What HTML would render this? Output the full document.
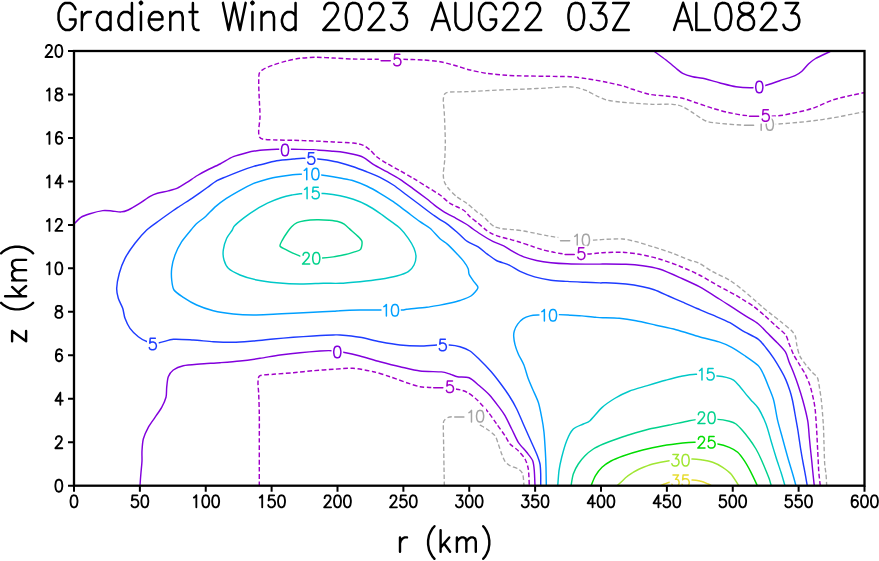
<!DOCTYPE html>
<html><head><meta charset="utf-8"><title>Gradient Wind</title>
<style>html,body{margin:0;padding:0;background:#fff;font-family:"Liberation Sans",sans-serif}body{width:879px;height:561px;overflow:hidden}</style></head>
<body>
<svg width="879" height="561" viewBox="0 0 879 561" style="display:block">
<rect x="0" y="0" width="879" height="561" fill="#fff"/>
<defs><clipPath id="pa"><rect x="74.0" y="51.0" width="790.5" height="434.7"/></clipPath></defs>
<g clip-path="url(#pa)" fill="none" stroke-width="1.45" stroke-linejoin="round">
<path d="M866.0 111.3 C864.2 111.7 856.3 113.3 852.7 114.0 C849.1 114.7 843.8 115.9 839.3 116.7 C834.8 117.5 824.6 119.3 819.3 120.0 C814.0 120.7 804.8 121.8 799.3 122.3 C793.8 122.8 785.2 123.6 777.7 124.0 C770.2 124.4 750.5 125.1 742.7 125.0 C734.9 124.9 724.2 123.8 719.3 123.3 C714.4 122.8 709.5 122.4 706.0 121.0 C702.5 119.6 695.8 114.6 692.7 112.7 C689.6 110.8 685.4 107.8 682.7 106.7 C680.0 105.6 676.7 104.6 672.7 104.3 C668.7 104.0 657.6 104.4 652.7 104.3 C647.8 104.2 640.4 103.6 636.0 103.3 C631.6 103.0 623.9 102.4 620.0 102.0 C616.1 101.6 609.8 100.8 606.7 100.0 C603.6 99.2 599.4 97.2 596.7 96.0 C594.0 94.8 589.4 91.8 586.7 90.7 C584.0 89.6 579.4 88.2 576.7 87.7 C574.0 87.2 570.7 86.7 566.7 86.7 C562.7 86.7 552.0 87.7 546.7 88.0 C541.4 88.3 532.0 88.8 526.7 89.0 C521.4 89.2 512.0 89.5 506.7 89.7 C501.4 89.9 492.0 90.4 486.7 90.7 C481.4 91.0 471.6 91.5 466.7 91.7 C461.8 91.9 452.9 91.7 450.0 92.0 C447.1 92.3 445.6 92.9 444.7 94.0 C443.8 95.1 443.4 97.4 443.3 100.0 C443.2 102.6 444.0 108.0 444.3 113.3 C444.6 118.6 445.2 133.8 445.3 140.0 C445.4 146.2 445.0 155.6 444.7 160.0 C444.4 164.4 443.4 170.4 443.3 173.3 C443.2 176.2 443.6 179.7 444.3 181.7 C445.0 183.7 446.6 186.3 448.3 188.3 C450.0 190.3 454.2 194.7 456.7 196.7 C459.2 198.7 464.0 201.3 466.7 203.3 C469.4 205.3 474.7 210.1 476.7 211.7 C478.7 213.3 480.2 213.6 481.9 215.0 C483.6 216.4 487.4 220.7 489.1 222.3 C490.8 223.9 492.9 225.9 494.6 226.8 C496.3 227.7 499.5 228.3 501.9 228.7 C504.3 229.1 509.9 229.3 512.8 229.6 C515.7 229.9 520.8 230.5 523.7 231.0 C526.6 231.5 531.7 232.6 534.6 233.2 C537.5 233.8 542.7 234.9 545.6 235.4 C548.5 235.9 550.4 236.6 556.5 237.2 C562.6 237.8 584.4 239.7 591.0 240.0 C597.6 240.3 601.8 239.4 606.0 239.3 C610.2 239.2 618.7 238.7 622.7 239.0 C626.7 239.3 632.0 240.7 636.0 241.7 C640.0 242.7 647.8 245.2 652.7 246.7 C657.6 248.2 667.8 251.5 672.7 253.3 C677.6 255.1 685.8 258.7 689.3 260.0 C692.8 261.3 696.2 261.7 699.3 263.3 C702.4 264.9 708.7 269.5 712.7 271.7 C716.7 273.9 725.3 277.6 729.3 280.0 C733.3 282.4 739.3 287.3 742.7 290.0 C746.1 292.7 751.8 297.7 754.5 300.0 C757.2 302.3 760.4 305.4 762.7 307.3 C765.0 309.2 769.4 312.7 771.8 314.6 C774.2 316.5 778.4 319.7 780.9 321.8 C783.4 323.9 789.0 328.1 790.9 330.0 C792.8 331.9 794.6 334.3 795.4 336.4 C796.2 338.5 796.3 342.8 796.9 345.5 C797.5 348.2 798.7 353.7 800.0 356.4 C801.3 359.1 804.7 363.3 806.4 365.5 C808.1 367.7 811.2 371.2 812.7 372.8 C814.2 374.4 816.4 375.7 817.3 377.4 C818.2 379.1 818.6 382.5 819.1 385.5 C819.6 388.5 820.7 394.9 821.3 400.0 C821.9 405.1 822.9 418.1 823.3 424.0 C823.7 429.9 823.8 438.7 824.0 444.0 C824.2 449.3 824.4 460.0 824.7 464.0 C825.0 468.0 825.7 471.1 826.0 474.0 C826.3 476.9 826.6 484.4 826.7 486.0" stroke="#a4a4a4" stroke-dasharray="4.5 2.5" stroke-width="1.35"/>
<path d="M444.3 486.0 C444.3 483.5 444.1 472.5 444.0 467.3 C443.9 462.1 443.8 452.6 443.7 447.3 C443.6 442.0 443.3 430.8 443.3 427.3 C443.3 423.8 443.3 422.0 444.0 420.7 C444.7 419.4 446.8 417.8 448.3 417.3 C449.8 416.8 452.1 416.6 455.0 416.7 C457.9 416.8 466.9 417.0 470.0 418.0 C473.1 419.0 476.1 422.5 478.3 424.0 C480.5 425.5 484.5 427.4 486.7 429.0 C488.9 430.6 493.5 433.7 495.0 435.7 C496.5 437.7 497.4 441.6 498.3 444.0 C499.2 446.4 500.8 451.7 501.7 454.0 C502.6 456.3 503.9 459.7 505.0 461.3 C506.1 462.9 508.2 464.7 510.0 465.7 C511.8 466.7 516.6 467.9 518.3 469.0 C520.0 470.1 521.9 471.7 522.7 474.0 C523.5 476.3 523.8 484.4 524.0 486.0" stroke="#a4a4a4" stroke-dasharray="4.5 2.5" stroke-width="1.35"/>
<path d="M866.0 92.3 C864.2 92.7 857.1 94.0 852.7 95.0 C848.3 96.0 838.0 98.2 832.7 100.0 C827.4 101.8 818.0 106.5 812.7 108.3 C807.4 110.1 797.6 112.3 792.7 113.3 C787.8 114.3 781.8 115.6 776.0 116.0 C770.2 116.4 755.5 116.4 749.3 116.0 C743.1 115.6 734.2 113.7 729.3 112.7 C724.4 111.7 717.1 109.6 712.7 108.3 C708.3 107.0 700.0 104.0 696.0 102.7 C692.0 101.4 686.7 99.2 682.7 98.3 C678.7 97.4 670.5 96.5 666.0 96.0 C661.5 95.5 653.7 95.2 649.3 94.3 C644.9 93.4 636.2 90.4 632.7 89.3 C629.2 88.2 626.8 86.9 623.3 86.0 C619.8 85.1 611.6 83.3 606.7 82.3 C601.8 81.3 591.6 79.4 586.7 78.7 C581.8 78.0 575.3 77.0 570.0 76.7 C564.7 76.4 552.5 76.4 546.7 76.3 C540.9 76.2 532.0 76.1 526.7 76.0 C521.4 75.9 512.0 75.7 506.7 75.3 C501.4 74.9 491.6 74.0 486.7 73.3 C481.8 72.6 474.5 71.1 470.0 70.0 C465.5 68.9 457.3 66.1 453.3 65.0 C449.3 63.9 444.0 62.4 440.0 61.7 C436.0 61.0 428.2 60.3 423.3 60.0 C418.4 59.7 409.1 59.4 403.3 59.3 C397.5 59.2 386.7 59.3 380.0 59.3 C373.3 59.3 359.2 59.2 353.0 59.0 C346.8 58.8 338.1 58.2 333.3 58.0 C328.5 57.8 321.1 57.3 316.7 57.3 C312.3 57.3 304.0 57.8 300.0 58.3 C296.0 58.8 290.3 60.1 286.7 61.0 C283.1 61.9 276.4 63.9 273.3 65.0 C270.2 66.1 265.2 68.2 263.3 69.3 C261.4 70.4 259.9 71.4 259.3 73.3 C258.7 75.2 258.7 79.7 258.7 83.3 C258.7 86.9 259.1 95.5 259.3 100.0 C259.5 104.5 260.1 112.7 260.0 116.7 C259.9 120.7 258.8 127.3 258.7 130.0 C258.6 132.7 258.7 135.5 259.3 136.7 C259.9 137.9 261.0 138.9 263.3 139.3 C265.6 139.7 272.7 139.9 276.7 140.0 C280.7 140.1 288.4 140.2 293.3 140.3 C298.2 140.4 308.0 140.8 313.3 141.0 C318.6 141.2 328.0 141.7 333.3 142.0 C338.6 142.3 349.3 142.6 353.3 143.0 C357.3 143.4 361.1 144.4 363.3 145.3 C365.5 146.2 368.2 148.5 370.0 150.0 C371.8 151.5 374.5 154.9 376.7 156.7 C378.9 158.5 383.6 161.4 386.7 163.3 C389.8 165.2 396.5 168.7 400.0 170.7 C403.5 172.7 409.7 176.2 413.3 178.3 C416.9 180.4 423.1 184.5 426.7 186.7 C430.3 188.9 436.9 192.8 440.0 195.0 C443.1 197.2 446.9 201.3 450.0 203.3 C453.1 205.3 460.6 208.2 463.3 210.0 C466.0 211.8 468.0 215.0 470.0 216.8 C472.0 218.6 476.1 221.5 478.2 223.2 C480.3 224.9 483.6 228.1 485.5 229.6 C487.4 231.1 490.9 233.1 492.8 234.1 C494.7 235.1 497.7 236.1 500.1 236.8 C502.5 237.5 508.3 238.9 511.0 239.6 C513.7 240.3 517.4 241.5 520.1 242.3 C522.8 243.1 528.1 244.9 531.0 245.9 C533.9 246.9 539.0 248.8 541.9 249.6 C544.8 250.4 550.0 251.4 552.9 252.0 C555.8 252.6 559.1 253.5 563.8 253.8 C568.5 254.1 583.1 254.1 588.3 254.0 C593.5 253.9 598.1 252.9 602.7 252.7 C607.3 252.5 617.8 252.1 622.7 252.3 C627.6 252.5 634.4 253.4 639.3 254.3 C644.2 255.2 654.0 257.4 659.3 259.0 C664.6 260.6 674.0 263.9 679.3 266.0 C684.6 268.1 694.0 272.3 699.3 275.0 C704.6 277.7 714.4 283.7 719.3 286.4 C724.2 289.1 732.8 293.5 736.0 295.3 C739.2 297.1 741.3 298.5 743.6 300.0 C745.9 301.5 750.8 304.3 753.6 306.4 C756.4 308.5 761.6 313.0 764.5 315.5 C767.4 318.0 772.6 323.0 775.4 325.5 C778.2 328.0 783.6 332.2 785.4 334.6 C787.2 337.0 788.0 341.0 789.1 343.7 C790.2 346.4 792.1 351.7 793.6 354.6 C795.1 357.5 798.4 362.8 800.0 365.5 C801.6 368.2 804.2 371.9 805.5 374.6 C806.8 377.3 808.9 382.1 810.0 385.5 C811.1 388.9 812.9 396.6 813.6 400.0 C814.3 403.4 814.9 406.6 815.3 410.7 C815.7 414.8 816.4 425.4 816.7 430.7 C817.0 436.0 817.4 445.4 817.7 450.7 C818.0 456.0 818.4 466.0 818.7 470.7 C819.0 475.4 820.1 484.0 820.3 486.0" stroke="#a000c8" stroke-dasharray="4.7 2.5" stroke-width="1.45"/>
<path d="M259.3 486.0 C259.3 483.5 259.3 473.3 259.3 467.3 C259.3 461.3 259.3 447.8 259.3 440.7 C259.3 433.6 259.4 420.2 259.3 414.0 C259.2 407.8 258.9 398.3 258.7 394.0 C258.5 389.7 257.8 384.1 258.0 381.7 C258.2 379.3 258.0 376.7 260.0 375.7 C262.0 374.7 268.9 374.7 273.3 374.3 C277.7 373.9 288.0 373.2 293.3 372.7 C298.6 372.2 308.0 371.2 313.3 370.7 C318.6 370.2 328.0 369.6 333.3 369.3 C338.6 369.0 347.7 368.0 353.0 368.3 C358.3 368.6 368.4 370.6 373.3 371.7 C378.2 372.8 385.5 375.2 390.0 376.7 C394.5 378.2 402.7 381.4 406.7 382.7 C410.7 384.0 416.2 386.0 420.0 386.7 C423.8 387.4 430.1 387.4 435.0 387.7 C439.9 388.0 452.4 388.6 456.7 389.2 C461.0 389.8 464.7 391.0 467.5 392.5 C470.3 394.0 474.7 397.7 477.5 400.3 C480.3 402.9 485.7 409.1 488.3 412.3 C490.9 415.5 494.5 420.9 496.7 424.0 C498.9 427.1 503.2 433.0 505.0 435.7 C506.8 438.4 508.2 442.0 510.0 444.0 C511.8 446.0 516.3 448.7 518.3 450.7 C520.3 452.7 523.7 456.6 525.0 459.0 C526.3 461.4 527.7 465.4 528.3 469.0 C528.9 472.6 529.2 483.7 529.3 486.0" stroke="#a000c8" stroke-dasharray="4.7 2.5" stroke-width="1.45"/>
<path d="M73.0 225.0 C74.1 224.0 78.6 218.8 80.9 217.3 C83.2 215.8 87.1 214.6 90.0 213.7 C92.9 212.8 99.9 211.0 102.8 210.6 C105.7 210.2 109.5 210.8 111.9 211.0 C114.3 211.2 118.8 212.0 121.0 211.9 C123.2 211.8 125.8 211.1 128.2 210.0 C130.6 208.9 136.3 205.5 139.2 203.7 C142.1 201.9 147.7 197.8 150.1 196.4 C152.5 195.0 155.0 194.0 157.4 193.3 C159.8 192.6 165.6 191.6 168.3 190.9 C171.0 190.2 175.0 189.3 177.4 188.2 C179.8 187.1 183.8 184.4 186.5 182.7 C189.2 181.0 194.6 177.2 197.4 175.5 C200.2 173.8 204.4 171.5 207.4 170.0 C210.4 168.5 216.5 165.8 220.0 164.0 C223.5 162.2 229.7 158.2 233.3 156.7 C236.9 155.2 243.1 153.6 246.7 152.7 C250.3 151.8 256.0 150.8 260.0 150.3 C264.0 149.8 272.3 149.4 276.7 149.3 C281.1 149.2 288.4 149.2 293.3 149.3 C298.2 149.4 308.0 149.4 313.3 149.7 C318.6 150.0 329.7 151.0 333.3 151.3 C336.9 151.6 337.3 151.3 340.0 151.7 C342.7 152.1 350.2 153.6 353.3 154.3 C356.4 155.0 360.6 156.0 363.3 157.3 C366.0 158.6 370.2 162.4 373.3 164.3 C376.4 166.2 383.1 169.7 386.7 171.7 C390.3 173.7 396.5 177.0 400.0 179.3 C403.5 181.6 409.7 186.2 413.3 188.8 C416.9 191.4 423.6 196.4 426.7 198.8 C429.8 201.2 434.0 204.9 436.7 206.8 C439.4 208.7 444.1 211.9 446.7 213.4 C449.3 214.9 453.4 216.9 456.0 218.3 C458.6 219.7 463.7 222.6 466.0 224.0 C468.3 225.4 470.9 227.5 473.0 229.0 C475.1 230.5 479.3 233.3 481.9 235.0 C484.5 236.7 489.9 239.9 492.8 241.4 C495.7 242.9 501.0 244.6 503.7 245.9 C506.4 247.2 510.1 249.9 512.8 251.4 C515.5 252.9 520.5 255.7 523.7 256.9 C526.9 258.1 532.9 259.7 536.5 260.5 C540.1 261.3 546.9 262.3 551.0 262.7 C555.1 263.1 562.8 263.6 567.4 263.8 C572.0 264.0 581.3 264.1 585.6 264.1 C589.9 264.1 597.3 264.1 600.0 264.1 C602.7 264.1 602.5 264.0 606.0 264.0 C609.5 264.0 621.1 264.1 626.0 264.3 C630.9 264.5 638.3 265.1 642.7 265.7 C647.1 266.3 654.4 267.5 659.3 269.0 C664.2 270.5 674.0 274.9 679.3 277.3 C684.6 279.7 694.0 283.8 699.3 286.7 C704.6 289.6 714.7 296.1 719.3 299.0 C723.9 301.9 730.0 305.9 733.6 308.2 C737.2 310.5 743.0 314.3 746.3 316.4 C749.6 318.5 755.3 321.5 758.1 323.7 C760.9 325.9 764.7 330.3 767.2 332.8 C769.7 335.3 774.8 340.3 777.2 342.8 C779.6 345.3 783.8 349.4 785.4 351.9 C787.0 354.4 788.0 359.1 789.1 361.9 C790.2 364.7 792.4 369.7 793.6 372.8 C794.8 375.9 797.0 381.9 798.2 385.5 C799.4 389.1 801.4 395.3 802.7 400.0 C804.0 404.7 806.8 415.7 807.7 420.7 C808.6 425.7 808.9 432.9 809.3 437.3 C809.7 441.7 810.5 449.5 811.0 454.0 C811.5 458.5 812.3 466.4 812.7 470.7 C813.1 475.0 814.1 484.0 814.3 486.0" stroke="#8200dc"/>
<path d="M140.0 486.0 C140.1 484.2 140.7 475.7 141.0 472.3 C141.3 468.9 141.9 463.6 142.0 460.7 C142.1 457.8 141.8 453.6 142.0 450.7 C142.2 447.8 142.5 442.1 143.3 439.0 C144.1 435.9 146.7 430.2 148.3 427.3 C149.9 424.4 153.2 420.0 155.0 417.3 C156.8 414.6 160.2 410.0 161.7 407.3 C163.2 404.6 165.3 400.0 166.0 397.3 C166.7 394.6 166.4 390.0 166.7 387.3 C167.0 384.6 167.4 379.0 168.3 376.7 C169.2 374.4 171.3 371.5 173.3 370.0 C175.3 368.5 179.7 366.5 183.3 365.7 C186.9 364.9 195.1 364.4 200.0 364.0 C204.9 363.6 214.7 363.1 220.0 362.7 C225.3 362.3 234.7 361.6 240.0 361.0 C245.3 360.4 254.7 359.1 260.0 358.3 C265.3 357.5 274.7 355.7 280.0 355.0 C285.3 354.3 294.7 353.2 300.0 352.7 C305.3 352.2 315.8 351.3 320.0 351.0 C324.2 350.7 328.6 350.5 331.7 350.7 C334.8 350.9 339.5 351.6 343.3 352.3 C347.1 353.0 355.1 354.7 360.0 356.0 C364.9 357.3 374.7 360.3 380.0 361.7 C385.3 363.1 394.7 365.5 400.0 366.7 C405.3 367.9 414.5 370.3 420.0 371.0 C425.5 371.7 437.4 371.5 441.4 371.9 C445.4 372.3 448.2 373.6 450.3 374.2 C452.4 374.8 454.9 376.2 457.4 376.7 C459.9 377.2 466.1 376.7 469.0 377.8 C471.9 378.9 476.1 383.0 478.8 385.3 C481.5 387.6 486.7 392.0 489.5 395.1 C492.3 398.2 497.9 405.7 500.0 408.4 C502.1 411.1 503.4 413.0 505.0 415.7 C506.6 418.4 509.9 425.5 511.7 429.0 C513.5 432.5 516.3 439.2 518.3 442.3 C520.3 445.4 524.8 449.8 526.7 452.3 C528.6 454.8 531.7 458.2 532.7 460.7 C533.7 463.2 534.0 467.3 534.3 470.7 C534.6 474.1 534.9 484.0 535.0 486.0" stroke="#8200dc"/>
<path d="M651.0 49.0 C653.0 50.5 662.7 57.4 666.0 60.0 C669.3 62.6 673.8 66.5 676.0 68.3 C678.2 70.1 680.5 72.2 682.7 73.3 C684.9 74.4 690.0 76.0 692.7 76.7 C695.4 77.4 699.2 77.5 702.7 78.3 C706.2 79.1 714.9 81.6 719.3 82.7 C723.7 83.8 731.5 86.0 736.0 86.7 C740.5 87.4 748.9 87.8 752.7 87.7 C756.5 87.6 760.8 86.7 764.4 85.8 C768.0 84.9 775.6 82.1 779.7 80.7 C783.8 79.3 792.1 76.9 795.1 75.6 C798.1 74.3 800.1 72.9 801.9 71.3 C803.7 69.7 806.9 65.4 808.7 63.7 C810.5 62.0 812.9 60.1 815.6 58.5 C818.3 56.9 826.7 53.2 829.2 52.0 C831.7 50.8 833.4 50.1 834.0 49.8" stroke="#8200dc"/>
<path d="M540.7 486.0 C540.7 484.4 540.8 476.9 540.7 474.0 C540.6 471.1 540.5 466.7 540.0 464.0 C539.5 461.3 538.0 457.3 536.7 454.0 C535.4 450.7 531.8 443.0 530.0 439.0 C528.2 435.0 525.1 428.0 523.3 424.0 C521.5 420.0 518.6 412.8 516.7 409.0 C514.8 405.2 511.2 398.9 509.0 395.5 C506.8 392.1 502.9 386.7 500.5 383.5 C498.1 380.3 493.7 374.6 491.0 371.5 C488.3 368.4 482.8 362.7 480.0 360.0 C477.2 357.3 472.7 352.8 470.0 351.0 C467.3 349.2 462.8 347.5 460.0 346.7 C457.2 345.9 452.4 345.2 449.3 345.0 C446.2 344.8 440.6 344.9 436.7 345.0 C432.8 345.1 424.9 346.0 420.0 346.0 C415.1 346.0 405.3 345.6 400.0 345.0 C394.7 344.4 385.3 342.7 380.0 341.7 C374.7 340.7 365.3 338.2 360.0 337.3 C354.7 336.4 343.6 335.3 340.0 335.0 C336.4 334.7 336.9 334.9 333.3 335.0 C329.7 335.1 318.6 335.7 313.3 336.0 C308.0 336.3 298.6 336.9 293.3 337.3 C288.0 337.7 278.6 338.5 273.3 339.0 C268.0 339.5 258.6 340.6 253.3 341.0 C248.0 341.4 238.6 342.2 233.3 342.3 C228.0 342.4 218.6 342.0 213.3 341.7 C208.0 341.4 198.6 340.3 193.3 340.0 C188.0 339.7 177.8 338.9 173.3 339.3 C168.8 339.7 162.8 342.4 159.3 342.7 C155.8 343.0 150.1 342.5 147.3 341.7 C144.5 340.9 140.6 338.5 138.3 336.7 C136.0 334.9 131.8 330.8 130.0 328.3 C128.2 325.8 126.0 321.0 125.0 318.3 C124.0 315.6 123.6 311.0 122.7 308.3 C121.8 305.6 119.1 301.0 118.3 298.3 C117.5 295.6 116.6 291.6 116.7 288.3 C116.8 285.0 118.2 277.3 119.3 273.3 C120.4 269.3 122.9 262.3 125.0 258.3 C127.1 254.3 132.1 247.1 135.0 243.3 C137.9 239.5 143.4 233.1 146.7 230.0 C150.0 226.9 156.5 222.6 160.0 220.0 C163.5 217.4 170.6 212.4 173.3 210.5 C176.0 208.6 177.3 207.8 180.0 206.0 C182.7 204.2 190.1 199.6 193.7 197.1 C197.3 194.6 204.2 189.7 207.3 187.5 C210.4 185.3 214.4 182.2 216.9 180.7 C219.4 179.2 223.3 177.9 226.4 176.6 C229.5 175.3 236.5 172.5 240.1 171.1 C243.7 169.7 251.0 167.2 253.7 166.4 C256.4 165.6 257.4 165.6 260.5 164.8 C263.6 164.0 272.3 161.5 276.7 160.7 C281.1 159.9 289.8 159.3 293.3 159.0 C296.8 158.7 299.7 158.3 303.0 158.3 C306.3 158.3 314.8 158.8 318.0 159.0 C321.2 159.2 323.8 159.5 326.7 160.0 C329.6 160.5 336.5 161.8 340.0 162.7 C343.5 163.6 349.7 165.5 353.3 166.7 C356.9 167.9 363.1 170.3 366.7 171.7 C370.3 173.1 376.5 175.5 380.0 177.3 C383.5 179.1 389.7 182.6 393.3 185.0 C396.9 187.4 403.1 192.3 406.7 195.0 C410.3 197.7 416.5 202.3 420.0 205.0 C423.5 207.7 430.6 213.1 433.3 215.0 C436.0 216.9 438.1 218.4 440.0 219.6 C441.9 220.8 444.9 222.3 447.3 224.1 C449.7 225.9 455.5 230.9 458.2 233.2 C460.9 235.5 464.6 239.6 467.3 241.4 C470.0 243.2 475.5 245.2 478.2 246.9 C480.9 248.6 484.9 252.3 487.3 254.1 C489.7 255.9 493.5 259.0 496.4 260.5 C499.3 262.0 506.0 263.6 509.2 265.1 C512.4 266.6 516.7 269.8 520.1 271.4 C523.5 273.0 530.5 275.7 534.6 276.9 C538.7 278.1 546.6 279.6 551.0 280.2 C555.4 280.8 562.8 281.1 567.4 281.4 C572.0 281.7 581.3 282.1 585.6 282.3 C589.9 282.5 597.3 282.8 600.0 282.9 C602.7 283.0 602.5 282.6 606.0 282.7 C609.5 282.8 621.1 283.5 626.0 284.0 C630.9 284.5 638.9 285.9 642.7 286.7 C646.5 287.5 650.8 288.5 654.2 289.7 C657.6 290.9 664.7 294.3 668.5 296.0 C672.3 297.7 678.9 300.5 682.7 302.2 C686.5 303.9 692.9 306.8 697.0 308.5 C701.1 310.2 708.7 313.3 713.1 315.2 C717.5 317.1 726.0 320.6 729.9 322.7 C733.8 324.8 738.9 328.7 742.7 330.9 C746.5 333.1 755.0 336.8 758.1 339.1 C761.2 341.4 764.2 345.7 766.3 348.2 C768.4 350.7 771.7 355.3 773.6 358.2 C775.5 361.1 779.2 367.2 780.9 370.1 C782.6 373.0 784.8 377.3 786.0 380.1 C787.2 382.9 789.1 388.3 790.0 391.0 C790.9 393.7 791.7 396.9 792.4 400.0 C793.1 403.1 794.3 409.9 795.0 414.0 C795.7 418.1 797.3 426.5 798.0 431.0 C798.7 435.5 799.8 443.6 800.5 448.0 C801.2 452.4 802.6 460.3 803.3 464.0 C804.0 467.7 805.0 472.8 805.5 475.7 C806.0 478.6 807.1 484.6 807.3 486.0" stroke="#1e3cff"/>
<path d="M313.0 174.3 C316.6 174.5 323.1 175.2 326.7 175.7 C330.3 176.2 336.5 177.3 340.0 178.0 C343.5 178.7 349.7 179.6 353.3 180.7 C356.9 181.8 363.1 184.3 366.7 186.0 C370.3 187.7 376.5 191.2 380.0 193.3 C383.5 195.4 389.7 199.2 393.3 201.7 C396.9 204.2 403.1 209.0 406.7 211.7 C410.3 214.4 416.9 219.5 420.0 221.7 C423.1 223.9 427.3 226.0 430.0 228.3 C432.7 230.6 437.7 236.6 440.0 238.7 C442.3 240.8 445.1 242.2 447.3 244.1 C449.5 246.0 454.2 250.9 456.4 253.2 C458.6 255.5 462.1 259.3 463.7 261.4 C465.3 263.5 467.5 267.0 468.2 268.7 C468.9 270.4 468.4 272.5 469.1 274.2 C469.8 275.9 472.5 279.6 473.7 281.4 C474.9 283.2 478.3 285.9 477.9 287.8 C477.5 289.7 473.3 294.3 470.9 296.0 C468.5 297.7 462.9 299.5 460.0 300.5 C457.1 301.5 451.8 302.7 449.1 303.3 C446.4 303.9 443.0 304.6 440.0 305.1 C437.0 305.6 431.1 306.7 426.7 307.3 C422.3 307.9 410.0 308.9 406.7 309.3 C403.4 309.7 405.3 309.9 401.7 310.0 C398.1 310.1 385.6 310.0 380.0 310.0 C374.4 310.0 365.3 309.9 360.0 310.0 C354.7 310.1 343.6 310.5 340.0 310.7 C336.4 310.9 336.9 311.1 333.3 311.3 C329.7 311.5 318.6 312.0 313.3 312.3 C308.0 312.6 298.6 313.0 293.3 313.3 C288.0 313.6 278.6 314.1 273.3 314.3 C268.0 314.5 258.6 315.0 253.3 315.0 C248.0 315.0 238.6 314.6 233.3 314.0 C228.0 313.4 218.2 311.9 213.3 310.7 C208.4 309.5 200.7 306.8 196.7 305.0 C192.7 303.2 186.3 299.3 183.3 297.3 C180.3 295.3 175.5 292.3 174.0 290.0 C172.5 287.7 172.0 282.9 171.7 280.0 C171.4 277.1 171.3 271.6 171.7 268.3 C172.1 265.0 173.7 258.5 175.0 255.0 C176.3 251.5 179.6 245.0 181.7 241.7 C183.8 238.4 189.0 232.4 191.0 230.0 C193.0 227.6 194.4 225.5 196.4 223.7 C198.4 221.9 203.4 218.5 205.9 216.2 C208.4 213.9 212.8 209.0 215.5 206.6 C218.2 204.2 223.1 200.6 226.4 198.4 C229.7 196.2 236.5 192.3 240.1 190.3 C243.7 188.3 250.8 184.7 253.7 183.4 C256.6 182.1 259.0 181.5 261.9 180.7 C264.8 179.9 272.0 178.0 275.6 177.3 C279.2 176.6 285.9 175.6 289.2 175.2 C292.5 174.8 296.8 174.3 300.0 174.2 C303.2 174.1 309.4 174.1 313.0 174.3" stroke="#00a0ff"/>
<path d="M546.3 486.0 C546.3 483.5 546.1 472.0 546.0 467.3 C545.9 462.6 545.6 455.4 545.3 450.7 C545.0 446.0 544.5 436.8 544.0 432.3 C543.5 427.8 542.5 421.3 541.7 417.3 C540.9 413.3 539.5 405.9 538.3 402.3 C537.1 398.7 534.4 393.2 533.0 390.0 C531.6 386.8 529.2 381.3 528.0 378.0 C526.8 374.7 525.2 368.2 523.9 365.0 C522.6 361.8 519.6 356.9 518.4 354.2 C517.2 351.5 515.6 347.0 515.0 344.6 C514.4 342.2 513.8 338.2 513.7 336.4 C513.6 334.6 513.8 332.6 514.3 331.0 C514.8 329.4 516.5 325.7 517.7 324.1 C518.9 322.5 521.6 319.8 523.2 318.7 C524.8 317.6 528.1 316.4 530.0 315.9 C531.9 315.4 533.7 315.2 537.5 315.0 C541.3 314.8 554.2 314.6 558.7 314.6 C563.2 314.6 567.9 315.1 571.0 315.3 C574.1 315.5 578.6 315.6 581.9 315.9 C585.2 316.2 592.8 317.1 595.6 317.3 C598.4 317.5 599.5 317.6 602.7 317.7 C605.9 317.8 614.9 317.9 619.3 318.3 C623.7 318.7 631.1 319.8 636.0 320.7 C640.9 321.6 650.7 324.0 656.0 325.2 C661.3 326.4 670.2 328.2 676.0 329.7 C681.8 331.2 693.6 335.1 699.3 336.7 C705.0 338.3 714.7 340.5 719.0 341.9 C723.3 343.3 728.3 345.5 731.7 347.3 C735.1 349.1 741.0 353.1 744.5 355.5 C748.0 357.9 755.6 363.0 758.1 365.5 C760.6 368.0 762.3 371.9 763.6 374.6 C764.9 377.3 766.8 382.1 768.1 385.5 C769.4 388.9 772.3 395.3 773.6 400.0 C774.9 404.7 776.5 415.5 777.7 420.7 C778.9 425.9 781.4 434.1 782.7 439.0 C784.0 443.9 786.4 452.6 787.7 457.3 C789.0 462.0 791.6 470.2 792.7 474.0 C793.8 477.8 795.6 484.4 796.0 486.0" stroke="#00a0ff"/>
<path d="M313.0 193.3 C316.6 193.3 323.1 193.4 326.7 193.7 C330.3 194.0 336.5 195.0 340.0 195.7 C343.5 196.4 349.7 198.1 353.3 199.3 C356.9 200.5 363.1 203.1 366.7 205.0 C370.3 206.9 376.9 211.2 380.0 213.3 C383.1 215.4 387.3 218.7 390.0 220.7 C392.7 222.7 397.6 226.0 400.0 228.3 C402.4 230.6 406.4 235.6 408.3 238.3 C410.2 241.0 413.0 245.8 414.0 248.3 C415.0 250.8 416.0 254.5 416.0 256.7 C416.0 258.9 415.0 263.0 414.0 265.0 C413.0 267.0 410.6 270.2 408.3 271.7 C406.0 273.2 400.5 275.0 396.7 276.0 C392.9 277.0 384.9 278.5 380.0 279.3 C375.1 280.1 365.3 281.2 360.0 281.7 C354.7 282.2 344.9 283.1 340.0 283.3 C335.1 283.5 328.6 283.2 323.3 283.3 C318.0 283.4 306.2 284.1 300.0 284.0 C293.8 283.9 282.5 283.2 276.7 282.7 C270.9 282.2 261.6 281.0 256.7 280.0 C251.8 279.0 243.8 276.6 240.0 275.0 C236.2 273.4 230.4 270.3 228.3 268.3 C226.2 266.3 224.7 262.4 224.0 260.0 C223.3 257.6 222.9 252.9 223.3 250.0 C223.7 247.1 225.5 240.9 226.7 238.3 C227.9 235.7 230.9 232.2 232.0 230.5 C233.1 228.8 233.0 227.4 234.6 225.7 C236.2 224.0 241.5 219.7 244.2 217.6 C246.9 215.5 252.0 212.0 255.1 210.1 C258.2 208.2 263.9 204.8 267.4 203.2 C270.9 201.6 277.7 198.9 281.0 197.8 C284.3 196.7 289.4 195.5 291.9 195.0 C294.4 194.5 297.2 193.9 300.0 193.7 C302.8 193.5 309.4 193.3 313.0 193.3" stroke="#00c8c8"/>
<path d="M557.7 486.0 C557.9 484.0 558.5 474.5 559.0 470.7 C559.5 466.9 560.7 461.3 561.7 457.3 C562.7 453.3 565.2 444.5 566.7 440.7 C568.2 436.9 571.1 431.2 573.3 429.0 C575.5 426.8 581.1 425.1 583.3 424.0 C585.5 422.9 587.5 422.9 590.0 420.7 C592.5 418.5 598.6 410.6 601.9 407.6 C605.2 404.6 611.0 400.7 614.6 398.5 C618.2 396.3 624.8 392.9 629.2 391.2 C633.6 389.5 642.5 387.1 647.4 385.6 C652.3 384.1 661.2 381.4 665.6 380.2 C670.0 379.0 676.1 377.3 680.1 376.5 C684.1 375.7 690.6 374.3 695.6 374.2 C700.6 374.1 713.6 375.6 717.7 376.0 C721.8 376.4 724.2 376.9 726.3 377.4 C728.4 377.9 731.9 379.0 733.6 380.1 C735.3 381.2 737.3 383.6 739.0 385.5 C740.7 387.4 744.7 392.7 746.3 394.6 C747.9 396.5 749.3 398.1 750.9 400.0 C752.5 401.9 756.5 405.3 758.5 408.5 C760.5 411.7 764.3 419.7 766.0 424.0 C767.7 428.3 769.7 436.3 771.0 440.7 C772.3 445.1 774.7 453.1 776.0 457.3 C777.3 461.5 779.8 468.5 781.0 472.3 C782.2 476.1 784.5 484.2 785.0 486.0" stroke="#00c8c8"/>
<path d="M280.0 246.0 C279.6 244.7 281.6 241.5 282.5 239.8 C283.4 238.1 285.6 234.7 286.8 233.0 C288.0 231.3 290.2 228.2 291.6 226.8 C293.0 225.4 295.4 223.5 297.1 222.7 C298.8 221.9 302.0 221.1 304.6 220.7 C307.2 220.3 313.6 219.8 316.9 219.7 C320.2 219.6 326.3 220.0 329.2 220.3 C332.1 220.6 336.7 221.2 338.7 221.7 C340.7 222.2 342.7 223.1 344.2 224.1 C345.7 225.1 348.0 227.4 349.6 228.9 C351.2 230.4 354.9 233.4 356.5 235.0 C358.1 236.6 361.4 239.3 361.9 241.2 C362.4 243.1 361.7 247.9 360.6 249.4 C359.5 250.9 355.9 251.4 353.7 252.1 C351.5 252.8 346.9 254.2 344.2 254.8 C341.5 255.4 336.2 256.5 333.3 256.9 C330.4 257.3 325.2 257.9 322.3 258.0 C319.4 258.1 314.2 258.2 311.3 258.0 C308.4 257.8 303.0 256.9 300.5 256.2 C298.0 255.5 294.3 253.7 292.3 252.8 C290.3 251.9 287.1 250.3 285.5 249.4 C283.9 248.5 280.4 247.3 280.0 246.0" stroke="#00d28c"/>
<path d="M571.0 486.0 C571.3 484.4 572.3 476.9 573.3 474.0 C574.3 471.1 576.7 466.4 578.3 464.0 C579.9 461.6 583.0 457.7 585.0 455.7 C587.0 453.7 590.9 450.6 593.3 449.0 C595.7 447.4 600.2 445.3 603.3 444.0 C606.4 442.7 613.2 440.2 616.7 439.0 C620.2 437.8 625.0 436.0 629.3 434.7 C633.6 433.4 644.0 430.3 649.3 429.0 C654.6 427.7 664.4 426.0 669.3 425.0 C674.2 424.0 682.4 422.2 686.0 421.5 C689.6 420.8 691.8 419.9 696.0 419.6 C700.2 419.3 713.3 419.2 717.7 419.4 C722.1 419.6 726.9 420.7 729.3 421.3 C731.7 421.9 734.2 422.7 736.0 424.0 C737.8 425.3 740.9 428.7 742.7 430.7 C744.5 432.7 747.5 436.6 749.3 439.0 C751.1 441.4 754.4 446.3 756.0 449.0 C757.6 451.7 759.7 456.1 761.0 459.0 C762.3 461.9 764.9 468.0 766.0 470.7 C767.1 473.4 768.6 477.0 769.3 479.0 C770.0 481.0 771.0 485.1 771.3 486.0" stroke="#00d28c"/>
<path d="M591.0 486.0 C591.6 484.6 594.0 478.2 595.5 475.7 C597.0 473.2 599.9 469.3 602.0 467.3 C604.1 465.3 608.2 462.5 611.0 461.0 C613.8 459.5 618.8 457.5 623.0 456.0 C627.2 454.5 637.4 451.4 642.7 450.0 C648.0 448.6 657.4 446.6 662.7 445.7 C668.0 444.8 678.3 443.5 682.7 443.0 C687.1 442.5 691.3 442.2 696.0 442.3 C700.7 442.4 713.3 443.3 717.7 444.0 C722.1 444.7 726.6 446.2 729.3 447.3 C732.0 448.4 735.7 450.5 737.7 452.3 C739.7 454.1 742.5 458.0 744.3 460.7 C746.1 463.4 749.2 468.9 751.0 472.3 C752.8 475.7 756.6 484.2 757.5 486.0" stroke="#00dc00"/>
<path d="M617.0 486.0 C618.3 484.8 624.4 478.8 626.5 477.0 C628.6 475.2 631.3 473.6 633.0 472.5 C634.7 471.4 636.7 470.1 639.3 469.0 C641.9 467.9 648.7 465.1 652.7 464.0 C656.7 462.9 664.1 461.4 669.3 460.7 C674.5 460.0 687.5 459.1 692.0 459.0 C696.5 458.9 699.9 459.6 702.7 460.0 C705.5 460.4 710.0 461.3 712.7 462.3 C715.4 463.3 720.3 465.7 722.7 467.3 C725.1 468.9 728.8 471.5 731.0 474.0 C733.2 476.5 737.9 484.4 739.0 486.0" stroke="#a0e632"/>
<path d="M660.0 486.0 C660.6 485.7 663.0 484.5 664.5 484.0 C666.0 483.5 667.8 482.5 671.5 482.0 C675.2 481.5 688.1 480.1 692.0 480.0 C695.9 479.9 698.8 480.8 701.0 481.3 C703.2 481.8 706.8 483.4 708.3 484.0 C709.8 484.6 711.5 485.7 712.0 486.0" stroke="#e6dc32"/>
<rect x="742.2" y="116.4" width="33.5" height="16.2" fill="#fff"/>
<path d="M744.45 125.33 L753.58 125.33 M758.65 120.91 L759.66 120.35 L761.18 118.69 L761.18 130.31 M769.29 118.69 L767.77 119.25 L766.76 120.91 L766.25 123.67 L766.25 125.33 L766.76 128.09 L767.77 129.75 L769.29 130.31 L770.31 130.31 L771.83 129.75 L772.84 128.09 L773.35 125.33 L773.35 123.67 L772.84 120.91 L771.83 119.25 L770.31 118.69 L769.29 118.69" stroke="#a4a4a4" stroke-width="1.50" stroke-linecap="round"/>
<rect x="558.3" y="231.9" width="33.5" height="16.2" fill="#fff"/>
<path d="M560.55 240.83 L569.68 240.83 M574.75 236.41 L575.76 235.85 L577.28 234.19 L577.28 245.81 M585.39 234.19 L583.87 234.75 L582.86 236.41 L582.35 239.17 L582.35 240.83 L582.86 243.59 L583.87 245.25 L585.39 245.81 L586.41 245.81 L587.93 245.25 L588.94 243.59 L589.45 240.83 L589.45 239.17 L588.94 236.41 L587.93 234.75 L586.41 234.19 L585.39 234.19" stroke="#a4a4a4" stroke-width="1.50" stroke-linecap="round"/>
<rect x="452.5" y="408.1" width="33.5" height="16.2" fill="#fff"/>
<path d="M454.75 417.03 L463.88 417.03 M468.95 412.61 L469.96 412.05 L471.48 410.39 L471.48 422.01 M479.59 410.39 L478.07 410.95 L477.06 412.61 L476.55 415.37 L476.55 417.03 L477.06 419.79 L478.07 421.45 L479.59 422.01 L480.61 422.01 L482.13 421.45 L483.14 419.79 L483.65 417.03 L483.65 415.37 L483.14 412.61 L482.13 410.95 L480.61 410.39 L479.59 410.39" stroke="#a4a4a4" stroke-width="1.50" stroke-linecap="round"/>
<rect x="378.8" y="51.9" width="24.4" height="16.2" fill="#fff"/>
<path d="M381.11 60.83 L390.24 60.83 M399.87 54.19 L394.80 54.19 L394.30 59.17 L394.80 58.62 L396.32 58.06 L397.84 58.06 L399.37 58.62 L400.38 59.72 L400.89 61.38 L400.89 62.49 L400.38 64.15 L399.37 65.25 L397.84 65.81 L396.32 65.81 L394.80 65.25 L394.30 64.70 L393.79 63.59" stroke="#a000c8" stroke-width="1.50" stroke-linecap="round"/>
<rect x="747.2" y="107.4" width="24.4" height="16.2" fill="#fff"/>
<path d="M749.51 116.33 L758.64 116.33 M768.27 109.69 L763.20 109.69 L762.70 114.67 L763.20 114.12 L764.72 113.56 L766.24 113.56 L767.77 114.12 L768.78 115.22 L769.29 116.88 L769.29 117.99 L768.78 119.65 L767.77 120.75 L766.24 121.31 L764.72 121.31 L763.20 120.75 L762.70 120.20 L762.19 119.09" stroke="#a000c8" stroke-width="1.50" stroke-linecap="round"/>
<rect x="562.8" y="245.5" width="24.4" height="16.2" fill="#fff"/>
<path d="M565.11 254.43 L574.24 254.43 M583.87 247.79 L578.80 247.79 L578.30 252.77 L578.80 252.22 L580.32 251.66 L581.84 251.66 L583.37 252.22 L584.38 253.32 L584.89 254.98 L584.89 256.09 L584.38 257.75 L583.37 258.85 L581.84 259.41 L580.32 259.41 L578.80 258.85 L578.30 258.30 L577.79 257.19" stroke="#a000c8" stroke-width="1.50" stroke-linecap="round"/>
<rect x="431.4" y="378.7" width="24.4" height="16.2" fill="#fff"/>
<path d="M433.71 387.63 L442.84 387.63 M452.47 380.99 L447.40 380.99 L446.90 385.97 L447.40 385.42 L448.92 384.86 L450.44 384.86 L451.97 385.42 L452.98 386.52 L453.49 388.18 L453.49 389.29 L452.98 390.95 L451.97 392.05 L450.44 392.61 L448.92 392.61 L447.40 392.05 L446.90 391.50 L446.39 390.39" stroke="#a000c8" stroke-width="1.50" stroke-linecap="round"/>
<rect x="279.2" y="141.9" width="11.7" height="16.2" fill="#fff"/>
<path d="M284.49 144.19 L282.97 144.75 L281.96 146.41 L281.45 149.17 L281.45 150.83 L281.96 153.59 L282.97 155.25 L284.49 155.81 L285.51 155.81 L287.03 155.25 L288.04 153.59 L288.55 150.83 L288.55 149.17 L288.04 146.41 L287.03 144.75 L285.51 144.19 L284.49 144.19" stroke="#8200dc" stroke-width="1.50" stroke-linecap="round"/>
<rect x="331.5" y="343.9" width="11.7" height="16.2" fill="#fff"/>
<path d="M336.79 346.19 L335.27 346.75 L334.26 348.41 L333.75 351.17 L333.75 352.83 L334.26 355.59 L335.27 357.25 L336.79 357.81 L337.81 357.81 L339.33 357.25 L340.34 355.59 L340.85 352.83 L340.85 351.17 L340.34 348.41 L339.33 346.75 L337.81 346.19 L336.79 346.19" stroke="#8200dc" stroke-width="1.50" stroke-linecap="round"/>
<rect x="753.5" y="78.9" width="11.7" height="16.2" fill="#fff"/>
<path d="M758.79 81.19 L757.27 81.75 L756.26 83.41 L755.75 86.17 L755.75 87.83 L756.26 90.59 L757.27 92.25 L758.79 92.81 L759.81 92.81 L761.33 92.25 L762.34 90.59 L762.85 87.83 L762.85 86.17 L762.34 83.41 L761.33 81.75 L759.81 81.19 L758.79 81.19" stroke="#8200dc" stroke-width="1.50" stroke-linecap="round"/>
<rect x="305.5" y="150.4" width="11.7" height="16.2" fill="#fff"/>
<path d="M313.84 152.69 L308.77 152.69 L308.26 157.67 L308.77 157.12 L310.29 156.56 L311.81 156.56 L313.33 157.12 L314.34 158.22 L314.85 159.88 L314.85 160.99 L314.34 162.65 L313.33 163.75 L311.81 164.31 L310.29 164.31 L308.77 163.75 L308.26 163.20 L307.75 162.09" stroke="#1e3cff" stroke-width="1.50" stroke-linecap="round"/>
<rect x="147.0" y="335.9" width="11.7" height="16.2" fill="#fff"/>
<path d="M155.34 338.19 L150.27 338.19 L149.76 343.17 L150.27 342.62 L151.79 342.06 L153.31 342.06 L154.83 342.62 L155.84 343.72 L156.35 345.38 L156.35 346.49 L155.84 348.15 L154.83 349.25 L153.31 349.81 L151.79 349.81 L150.27 349.25 L149.76 348.70 L149.25 347.59" stroke="#1e3cff" stroke-width="1.50" stroke-linecap="round"/>
<rect x="437.0" y="336.9" width="11.7" height="16.2" fill="#fff"/>
<path d="M445.34 339.19 L440.27 339.19 L439.76 344.17 L440.27 343.62 L441.79 343.06 L443.31 343.06 L444.83 343.62 L445.84 344.72 L446.35 346.38 L446.35 347.49 L445.84 349.15 L444.83 350.25 L443.31 350.81 L441.79 350.81 L440.27 350.25 L439.76 349.70 L439.25 348.59" stroke="#1e3cff" stroke-width="1.50" stroke-linecap="round"/>
<rect x="301.9" y="165.9" width="19.3" height="16.2" fill="#fff"/>
<path d="M304.25 170.41 L305.26 169.85 L306.78 168.19 L306.78 179.81 M314.90 168.19 L313.37 168.75 L312.36 170.41 L311.85 173.17 L311.85 174.83 L312.36 177.59 L313.37 179.25 L314.90 179.81 L315.91 179.81 L317.43 179.25 L318.44 177.59 L318.95 174.83 L318.95 173.17 L318.44 170.41 L317.43 168.75 L315.91 168.19 L314.90 168.19" stroke="#00a0ff" stroke-width="1.50" stroke-linecap="round"/>
<rect x="381.5" y="302.2" width="19.3" height="16.2" fill="#fff"/>
<path d="M383.85 306.71 L384.86 306.15 L386.38 304.49 L386.38 316.11 M394.50 304.49 L392.97 305.05 L391.96 306.71 L391.45 309.47 L391.45 311.13 L391.96 313.89 L392.97 315.55 L394.50 316.11 L395.51 316.11 L397.03 315.55 L398.04 313.89 L398.55 311.13 L398.55 309.47 L398.04 306.71 L397.03 305.05 L395.51 304.49 L394.50 304.49" stroke="#00a0ff" stroke-width="1.50" stroke-linecap="round"/>
<rect x="539.5" y="307.2" width="19.3" height="16.2" fill="#fff"/>
<path d="M541.85 311.71 L542.86 311.15 L544.38 309.49 L544.38 321.11 M552.50 309.49 L550.97 310.05 L549.96 311.71 L549.45 314.47 L549.45 316.13 L549.96 318.89 L550.97 320.55 L552.50 321.11 L553.51 321.11 L555.03 320.55 L556.04 318.89 L556.55 316.13 L556.55 314.47 L556.04 311.71 L555.03 310.05 L553.51 309.49 L552.50 309.49" stroke="#00a0ff" stroke-width="1.50" stroke-linecap="round"/>
<rect x="302.2" y="184.9" width="19.3" height="16.2" fill="#fff"/>
<path d="M304.55 189.41 L305.56 188.85 L307.08 187.19 L307.08 198.81 M318.24 187.19 L313.17 187.19 L312.66 192.17 L313.17 191.62 L314.69 191.06 L316.21 191.06 L317.73 191.62 L318.74 192.72 L319.25 194.38 L319.25 195.49 L318.74 197.15 L317.73 198.25 L316.21 198.81 L314.69 198.81 L313.17 198.25 L312.66 197.70 L312.15 196.59" stroke="#00c8c8" stroke-width="1.50" stroke-linecap="round"/>
<rect x="697.1" y="366.1" width="19.3" height="16.2" fill="#fff"/>
<path d="M699.45 370.61 L700.46 370.05 L701.98 368.39 L701.98 380.01 M713.14 368.39 L708.07 368.39 L707.56 373.37 L708.07 372.82 L709.59 372.26 L711.11 372.26 L712.63 372.82 L713.64 373.92 L714.15 375.58 L714.15 376.69 L713.64 378.35 L712.63 379.45 L711.11 380.01 L709.59 380.01 L708.07 379.45 L707.56 378.90 L707.05 377.79" stroke="#00c8c8" stroke-width="1.50" stroke-linecap="round"/>
<rect x="300.3" y="250.2" width="21.8" height="16.2" fill="#fff"/>
<path d="M303.09 255.26 L303.09 254.71 L303.60 253.60 L304.10 253.05 L305.12 252.49 L307.14 252.49 L308.16 253.05 L308.67 253.60 L309.17 254.71 L309.17 255.81 L308.67 256.92 L307.65 258.58 L302.58 264.11 L309.68 264.11 M315.76 252.49 L314.24 253.05 L313.23 254.71 L312.72 257.47 L312.72 259.13 L313.23 261.89 L314.24 263.55 L315.76 264.11 L316.78 264.11 L318.30 263.55 L319.31 261.89 L319.82 259.13 L319.82 257.47 L319.31 254.71 L318.30 253.05 L316.78 252.49 L315.76 252.49" stroke="#00d28c" stroke-width="1.50" stroke-linecap="round"/>
<rect x="695.6" y="409.6" width="21.8" height="16.2" fill="#fff"/>
<path d="M698.39 414.66 L698.39 414.11 L698.89 413.00 L699.40 412.45 L700.42 411.89 L702.44 411.89 L703.46 412.45 L703.97 413.00 L704.47 414.11 L704.47 415.21 L703.97 416.32 L702.95 417.98 L697.88 423.51 L704.98 423.51 M711.06 411.89 L709.54 412.45 L708.53 414.11 L708.02 416.87 L708.02 418.53 L708.53 421.29 L709.54 422.95 L711.06 423.51 L712.08 423.51 L713.60 422.95 L714.61 421.29 L715.12 418.53 L715.12 416.87 L714.61 414.11 L713.60 412.45 L712.08 411.89 L711.06 411.89" stroke="#00d28c" stroke-width="1.50" stroke-linecap="round"/>
<rect x="695.6" y="434.2" width="21.8" height="16.2" fill="#fff"/>
<path d="M698.39 439.26 L698.39 438.71 L698.89 437.60 L699.40 437.05 L700.42 436.49 L702.44 436.49 L703.46 437.05 L703.97 437.60 L704.47 438.71 L704.47 439.81 L703.97 440.92 L702.95 442.58 L697.88 448.11 L704.98 448.11 M714.11 436.49 L709.03 436.49 L708.53 441.47 L709.03 440.92 L710.56 440.36 L712.08 440.36 L713.60 440.92 L714.61 442.02 L715.12 443.68 L715.12 444.79 L714.61 446.45 L713.60 447.55 L712.08 448.11 L710.56 448.11 L709.03 447.55 L708.53 447.00 L708.02 445.89" stroke="#00dc00" stroke-width="1.50" stroke-linecap="round"/>
<rect x="669.6" y="452.1" width="21.8" height="16.2" fill="#fff"/>
<path d="M672.89 454.39 L678.47 454.39 L675.43 458.82 L676.95 458.82 L677.97 459.37 L678.47 459.92 L678.98 461.58 L678.98 462.69 L678.47 464.35 L677.46 465.45 L675.94 466.01 L674.42 466.01 L672.89 465.45 L672.39 464.90 L671.88 463.79 M685.06 454.39 L683.54 454.95 L682.53 456.61 L682.02 459.37 L682.02 461.03 L682.53 463.79 L683.54 465.45 L685.06 466.01 L686.08 466.01 L687.60 465.45 L688.61 463.79 L689.12 461.03 L689.12 459.37 L688.61 456.61 L687.60 454.95 L686.08 454.39 L685.06 454.39" stroke="#a0e632" stroke-width="1.50" stroke-linecap="round"/>
<rect x="669.7" y="472.6" width="21.8" height="16.2" fill="#fff"/>
<path d="M673.00 474.89 L678.57 474.89 L675.53 479.32 L677.05 479.32 L678.07 479.87 L678.57 480.42 L679.08 482.08 L679.08 483.19 L678.57 484.85 L677.56 485.95 L676.04 486.51 L674.52 486.51 L673.00 485.95 L672.49 485.40 L671.98 484.29 M688.21 474.89 L683.13 474.89 L682.63 479.87 L683.13 479.32 L684.66 478.76 L686.18 478.76 L687.70 479.32 L688.71 480.42 L689.22 482.08 L689.22 483.19 L688.71 484.85 L687.70 485.95 L686.18 486.51 L684.66 486.51 L683.13 485.95 L682.63 485.40 L682.12 484.29" stroke="#e6dc32" stroke-width="1.50" stroke-linecap="round"/>
</g>
<g fill="none" stroke="#000" stroke-width="2.30" stroke-linecap="butt">
<rect x="74.00" y="51.00" width="790.50" height="434.70"/>
<path d="M74.00 485.70 V491.70 M139.88 485.70 V491.70 M205.75 485.70 V491.70 M271.62 485.70 V491.70 M337.50 485.70 V491.70 M403.38 485.70 V491.70 M469.25 485.70 V491.70 M535.12 485.70 V491.70 M601.00 485.70 V491.70 M666.88 485.70 V491.70 M732.75 485.70 V491.70 M798.62 485.70 V491.70 M864.50 485.70 V491.70 M74.00 485.70 H68.00 M74.00 442.23 H68.00 M74.00 398.76 H68.00 M74.00 355.29 H68.00 M74.00 311.82 H68.00 M74.00 268.35 H68.00 M74.00 224.88 H68.00 M74.00 181.41 H68.00 M74.00 137.94 H68.00 M74.00 94.47 H68.00 M74.00 51.00 H68.00" stroke-width="2"/>
</g>
<path d="M73.50 495.31 L72.02 495.88 L71.03 497.59 L70.53 500.45 L70.53 502.16 L71.03 505.02 L72.02 506.73 L73.50 507.30 L74.50 507.30 L75.98 506.73 L76.97 505.02 L77.47 502.16 L77.47 500.45 L76.97 497.59 L75.98 495.88 L74.50 495.31 L73.50 495.31" fill="none" stroke="#000" stroke-width="1.85" stroke-linecap="round" stroke-linejoin="round"/>
<path d="M137.40 495.31 L132.45 495.31 L131.95 500.45 L132.45 499.88 L133.94 499.31 L135.42 499.31 L136.91 499.88 L137.89 501.02 L138.39 502.73 L138.39 503.87 L137.89 505.59 L136.91 506.73 L135.42 507.30 L133.94 507.30 L132.45 506.73 L131.95 506.16 L131.46 505.02 M144.33 495.31 L142.84 495.88 L141.85 497.59 L141.36 500.45 L141.36 502.16 L141.85 505.02 L142.84 506.73 L144.33 507.30 L145.32 507.30 L146.81 506.73 L147.79 505.02 L148.29 502.16 L148.29 500.45 L147.79 497.59 L146.81 495.88 L145.32 495.31 L144.33 495.31" fill="none" stroke="#000" stroke-width="1.85" stroke-linecap="round" stroke-linejoin="round"/>
<path d="M193.87 497.59 L194.86 497.02 L196.34 495.31 L196.34 507.30 M205.25 495.31 L203.77 495.88 L202.78 497.59 L202.28 500.45 L202.28 502.16 L202.78 505.02 L203.77 506.73 L205.25 507.30 L206.25 507.30 L207.73 506.73 L208.72 505.02 L209.22 502.16 L209.22 500.45 L208.72 497.59 L207.73 495.88 L206.25 495.31 L205.25 495.31 M215.16 495.31 L213.67 495.88 L212.68 497.59 L212.19 500.45 L212.19 502.16 L212.68 505.02 L213.67 506.73 L215.16 507.30 L216.15 507.30 L217.63 506.73 L218.62 505.02 L219.12 502.16 L219.12 500.45 L218.62 497.59 L217.63 495.88 L216.15 495.31 L215.16 495.31" fill="none" stroke="#000" stroke-width="1.85" stroke-linecap="round" stroke-linejoin="round"/>
<path d="M259.75 497.59 L260.73 497.02 L262.22 495.31 L262.22 507.30 M274.10 495.31 L269.15 495.31 L268.65 500.45 L269.15 499.88 L270.63 499.31 L272.12 499.31 L273.60 499.88 L274.59 501.02 L275.09 502.73 L275.09 503.87 L274.59 505.59 L273.60 506.73 L272.12 507.30 L270.63 507.30 L269.15 506.73 L268.65 506.16 L268.16 505.02 M281.03 495.31 L279.54 495.88 L278.55 497.59 L278.06 500.45 L278.06 502.16 L278.55 505.02 L279.54 506.73 L281.03 507.30 L282.02 507.30 L283.50 506.73 L284.50 505.02 L284.99 502.16 L284.99 500.45 L284.50 497.59 L283.50 495.88 L282.02 495.31 L281.03 495.31" fill="none" stroke="#000" stroke-width="1.85" stroke-linecap="round" stroke-linejoin="round"/>
<path d="M324.63 498.16 L324.63 497.59 L325.12 496.45 L325.62 495.88 L326.61 495.31 L328.59 495.31 L329.58 495.88 L330.07 496.45 L330.57 497.59 L330.57 498.74 L330.07 499.88 L329.08 501.59 L324.13 507.30 L331.06 507.30 M337.00 495.31 L335.52 495.88 L334.53 497.59 L334.03 500.45 L334.03 502.16 L334.53 505.02 L335.52 506.73 L337.00 507.30 L338.00 507.30 L339.48 506.73 L340.47 505.02 L340.96 502.16 L340.96 500.45 L340.47 497.59 L339.48 495.88 L338.00 495.31 L337.00 495.31 M346.90 495.31 L345.42 495.88 L344.43 497.59 L343.94 500.45 L343.94 502.16 L344.43 505.02 L345.42 506.73 L346.90 507.30 L347.89 507.30 L349.38 506.73 L350.37 505.02 L350.86 502.16 L350.86 500.45 L350.37 497.59 L349.38 495.88 L347.89 495.31 L346.90 495.31" fill="none" stroke="#000" stroke-width="1.85" stroke-linecap="round" stroke-linejoin="round"/>
<path d="M390.50 498.16 L390.50 497.59 L391.00 496.45 L391.50 495.88 L392.48 495.31 L394.46 495.31 L395.45 495.88 L395.95 496.45 L396.44 497.59 L396.44 498.74 L395.95 499.88 L394.96 501.59 L390.01 507.30 L396.94 507.30 M405.85 495.31 L400.90 495.31 L400.40 500.45 L400.90 499.88 L402.38 499.31 L403.87 499.31 L405.35 499.88 L406.34 501.02 L406.84 502.73 L406.84 503.87 L406.34 505.59 L405.35 506.73 L403.87 507.30 L402.38 507.30 L400.90 506.73 L400.40 506.16 L399.91 505.02 M412.78 495.31 L411.29 495.88 L410.30 497.59 L409.81 500.45 L409.81 502.16 L410.30 505.02 L411.29 506.73 L412.78 507.30 L413.77 507.30 L415.25 506.73 L416.25 505.02 L416.74 502.16 L416.74 500.45 L416.25 497.59 L415.25 495.88 L413.77 495.31 L412.78 495.31" fill="none" stroke="#000" stroke-width="1.85" stroke-linecap="round" stroke-linejoin="round"/>
<path d="M456.88 495.31 L462.32 495.31 L459.35 499.88 L460.83 499.88 L461.82 500.45 L462.32 501.02 L462.81 502.73 L462.81 503.87 L462.32 505.59 L461.33 506.73 L459.84 507.30 L458.36 507.30 L456.88 506.73 L456.38 506.16 L455.88 505.02 M468.75 495.31 L467.27 495.88 L466.28 497.59 L465.78 500.45 L465.78 502.16 L466.28 505.02 L467.27 506.73 L468.75 507.30 L469.75 507.30 L471.23 506.73 L472.22 505.02 L472.71 502.16 L472.71 500.45 L472.22 497.59 L471.23 495.88 L469.75 495.31 L468.75 495.31 M478.65 495.31 L477.17 495.88 L476.18 497.59 L475.69 500.45 L475.69 502.16 L476.18 505.02 L477.17 506.73 L478.65 507.30 L479.64 507.30 L481.13 506.73 L482.12 505.02 L482.61 502.16 L482.61 500.45 L482.12 497.59 L481.13 495.88 L479.64 495.31 L478.65 495.31" fill="none" stroke="#000" stroke-width="1.85" stroke-linecap="round" stroke-linejoin="round"/>
<path d="M522.75 495.31 L528.19 495.31 L525.23 499.88 L526.71 499.88 L527.70 500.45 L528.19 501.02 L528.69 502.73 L528.69 503.87 L528.19 505.59 L527.20 506.73 L525.72 507.30 L524.24 507.30 L522.75 506.73 L522.25 506.16 L521.76 505.02 M537.60 495.31 L532.65 495.31 L532.15 500.45 L532.65 499.88 L534.13 499.31 L535.62 499.31 L537.11 499.88 L538.10 501.02 L538.59 502.73 L538.59 503.87 L538.10 505.59 L537.11 506.73 L535.62 507.30 L534.13 507.30 L532.65 506.73 L532.15 506.16 L531.66 505.02 M544.53 495.31 L543.04 495.88 L542.05 497.59 L541.56 500.45 L541.56 502.16 L542.05 505.02 L543.04 506.73 L544.53 507.30 L545.52 507.30 L547.00 506.73 L548.00 505.02 L548.49 502.16 L548.49 500.45 L548.00 497.59 L547.00 495.88 L545.52 495.31 L544.53 495.31" fill="none" stroke="#000" stroke-width="1.85" stroke-linecap="round" stroke-linejoin="round"/>
<path d="M592.58 495.31 L587.63 503.30 L595.06 503.30 M592.58 495.31 L592.58 507.30 M600.50 495.31 L599.02 495.88 L598.03 497.59 L597.53 500.45 L597.53 502.16 L598.03 505.02 L599.02 506.73 L600.50 507.30 L601.50 507.30 L602.98 506.73 L603.97 505.02 L604.47 502.16 L604.47 500.45 L603.97 497.59 L602.98 495.88 L601.50 495.31 L600.50 495.31 M610.40 495.31 L608.92 495.88 L607.93 497.59 L607.43 500.45 L607.43 502.16 L607.93 505.02 L608.92 506.73 L610.40 507.30 L611.39 507.30 L612.88 506.73 L613.87 505.02 L614.37 502.16 L614.37 500.45 L613.87 497.59 L612.88 495.88 L611.39 495.31 L610.40 495.31" fill="none" stroke="#000" stroke-width="1.85" stroke-linecap="round" stroke-linejoin="round"/>
<path d="M658.46 495.31 L653.51 503.30 L660.93 503.30 M658.46 495.31 L658.46 507.30 M669.35 495.31 L664.40 495.31 L663.90 500.45 L664.40 499.88 L665.88 499.31 L667.37 499.31 L668.86 499.88 L669.85 501.02 L670.34 502.73 L670.34 503.87 L669.85 505.59 L668.86 506.73 L667.37 507.30 L665.88 507.30 L664.40 506.73 L663.90 506.16 L663.41 505.02 M676.28 495.31 L674.79 495.88 L673.80 497.59 L673.31 500.45 L673.31 502.16 L673.80 505.02 L674.79 506.73 L676.28 507.30 L677.27 507.30 L678.75 506.73 L679.75 505.02 L680.24 502.16 L680.24 500.45 L679.75 497.59 L678.75 495.88 L677.27 495.31 L676.28 495.31" fill="none" stroke="#000" stroke-width="1.85" stroke-linecap="round" stroke-linejoin="round"/>
<path d="M725.32 495.31 L720.38 495.31 L719.88 500.45 L720.38 499.88 L721.86 499.31 L723.35 499.31 L724.83 499.88 L725.82 501.02 L726.31 502.73 L726.31 503.87 L725.82 505.59 L724.83 506.73 L723.35 507.30 L721.86 507.30 L720.38 506.73 L719.88 506.16 L719.38 505.02 M732.25 495.31 L730.77 495.88 L729.78 497.59 L729.28 500.45 L729.28 502.16 L729.78 505.02 L730.77 506.73 L732.25 507.30 L733.25 507.30 L734.73 506.73 L735.72 505.02 L736.22 502.16 L736.22 500.45 L735.72 497.59 L734.73 495.88 L733.25 495.31 L732.25 495.31 M742.15 495.31 L740.67 495.88 L739.68 497.59 L739.18 500.45 L739.18 502.16 L739.68 505.02 L740.67 506.73 L742.15 507.30 L743.14 507.30 L744.63 506.73 L745.62 505.02 L746.12 502.16 L746.12 500.45 L745.62 497.59 L744.63 495.88 L743.14 495.31 L742.15 495.31" fill="none" stroke="#000" stroke-width="1.85" stroke-linecap="round" stroke-linejoin="round"/>
<path d="M791.20 495.31 L786.25 495.31 L785.75 500.45 L786.25 499.88 L787.74 499.31 L789.22 499.31 L790.70 499.88 L791.69 501.02 L792.19 502.73 L792.19 503.87 L791.69 505.59 L790.70 506.73 L789.22 507.30 L787.74 507.30 L786.25 506.73 L785.75 506.16 L785.26 505.02 M801.10 495.31 L796.15 495.31 L795.65 500.45 L796.15 499.88 L797.63 499.31 L799.12 499.31 L800.61 499.88 L801.60 501.02 L802.09 502.73 L802.09 503.87 L801.60 505.59 L800.61 506.73 L799.12 507.30 L797.63 507.30 L796.15 506.73 L795.65 506.16 L795.16 505.02 M808.03 495.31 L806.54 495.88 L805.55 497.59 L805.06 500.45 L805.06 502.16 L805.55 505.02 L806.54 506.73 L808.03 507.30 L809.02 507.30 L810.50 506.73 L811.50 505.02 L811.99 502.16 L811.99 500.45 L811.50 497.59 L810.50 495.88 L809.02 495.31 L808.03 495.31" fill="none" stroke="#000" stroke-width="1.85" stroke-linecap="round" stroke-linejoin="round"/>
<path d="M857.57 497.02 L857.07 495.88 L855.59 495.31 L854.60 495.31 L853.12 495.88 L852.12 497.59 L851.63 500.45 L851.63 503.30 L852.12 505.59 L853.12 506.73 L854.60 507.30 L855.10 507.30 L856.58 506.73 L857.57 505.59 L858.06 503.87 L858.06 503.30 L857.57 501.59 L856.58 500.45 L855.10 499.88 L854.60 499.88 L853.12 500.45 L852.12 501.59 L851.63 503.30 M864.00 495.31 L862.52 495.88 L861.53 497.59 L861.03 500.45 L861.03 502.16 L861.53 505.02 L862.52 506.73 L864.00 507.30 L865.00 507.30 L866.48 506.73 L867.47 505.02 L867.97 502.16 L867.97 500.45 L867.47 497.59 L866.48 495.88 L865.00 495.31 L864.00 495.31 M873.90 495.31 L872.42 495.88 L871.43 497.59 L870.93 500.45 L870.93 502.16 L871.43 505.02 L872.42 506.73 L873.90 507.30 L874.89 507.30 L876.38 506.73 L877.37 505.02 L877.87 502.16 L877.87 500.45 L877.37 497.59 L876.38 495.88 L874.89 495.31 L873.90 495.31" fill="none" stroke="#000" stroke-width="1.85" stroke-linecap="round" stroke-linejoin="round"/>
<path d="M58.35 479.70 L56.87 480.28 L55.88 481.99 L55.38 484.84 L55.38 486.56 L55.88 489.41 L56.87 491.12 L58.35 491.70 L59.34 491.70 L60.83 491.12 L61.82 489.41 L62.31 486.56 L62.31 484.84 L61.82 481.99 L60.83 480.28 L59.34 479.70 L58.35 479.70" fill="none" stroke="#000" stroke-width="1.85" stroke-linecap="round" stroke-linejoin="round"/>
<path d="M55.88 439.09 L55.88 438.52 L56.38 437.38 L56.87 436.81 L57.86 436.23 L59.84 436.23 L60.83 436.81 L61.32 437.38 L61.82 438.52 L61.82 439.66 L61.32 440.80 L60.34 442.52 L55.38 448.23 L62.31 448.23" fill="none" stroke="#000" stroke-width="1.85" stroke-linecap="round" stroke-linejoin="round"/>
<path d="M60.34 392.76 L55.38 400.76 L62.81 400.76 M60.34 392.76 L60.34 404.76" fill="none" stroke="#000" stroke-width="1.85" stroke-linecap="round" stroke-linejoin="round"/>
<path d="M61.82 351.01 L61.32 349.87 L59.84 349.29 L58.85 349.29 L57.36 349.87 L56.38 351.58 L55.88 354.43 L55.88 357.29 L56.38 359.57 L57.36 360.71 L58.85 361.29 L59.34 361.29 L60.83 360.71 L61.82 359.57 L62.31 357.86 L62.31 357.29 L61.82 355.58 L60.83 354.43 L59.34 353.86 L58.85 353.86 L57.36 354.43 L56.38 355.58 L55.88 357.29" fill="none" stroke="#000" stroke-width="1.85" stroke-linecap="round" stroke-linejoin="round"/>
<path d="M57.86 305.82 L56.38 306.40 L55.88 307.54 L55.88 308.68 L56.38 309.82 L57.36 310.39 L59.34 310.96 L60.83 311.53 L61.82 312.68 L62.31 313.82 L62.31 315.53 L61.82 316.67 L61.32 317.24 L59.84 317.82 L57.86 317.82 L56.38 317.24 L55.88 316.67 L55.38 315.53 L55.38 313.82 L55.88 312.68 L56.87 311.53 L58.35 310.96 L60.34 310.39 L61.32 309.82 L61.82 308.68 L61.82 307.54 L61.32 306.40 L59.84 305.82 L57.86 305.82" fill="none" stroke="#000" stroke-width="1.85" stroke-linecap="round" stroke-linejoin="round"/>
<path d="M46.97 264.64 L47.96 264.07 L49.45 262.35 L49.45 274.35 M58.36 262.35 L56.87 262.93 L55.88 264.64 L55.38 267.49 L55.38 269.21 L55.88 272.06 L56.87 273.77 L58.36 274.35 L59.34 274.35 L60.83 273.77 L61.82 272.06 L62.31 269.21 L62.31 267.49 L61.82 264.64 L60.83 262.93 L59.34 262.35 L58.36 262.35" fill="none" stroke="#000" stroke-width="1.85" stroke-linecap="round" stroke-linejoin="round"/>
<path d="M46.97 221.17 L47.96 220.60 L49.45 218.88 L49.45 230.88 M55.88 221.74 L55.88 221.17 L56.38 220.03 L56.87 219.46 L57.86 218.88 L59.84 218.88 L60.83 219.46 L61.33 220.03 L61.82 221.17 L61.82 222.31 L61.33 223.45 L60.34 225.17 L55.38 230.88 L62.31 230.88" fill="none" stroke="#000" stroke-width="1.85" stroke-linecap="round" stroke-linejoin="round"/>
<path d="M46.97 177.70 L47.96 177.13 L49.45 175.41 L49.45 187.41 M60.34 175.41 L55.38 183.41 L62.81 183.41 M60.34 175.41 L60.34 187.41" fill="none" stroke="#000" stroke-width="1.85" stroke-linecap="round" stroke-linejoin="round"/>
<path d="M46.97 134.23 L47.96 133.66 L49.45 131.94 L49.45 143.94 M61.82 133.66 L61.33 132.52 L59.84 131.94 L58.85 131.94 L57.37 132.52 L56.38 134.23 L55.88 137.08 L55.88 139.94 L56.38 142.22 L57.37 143.36 L58.85 143.94 L59.34 143.94 L60.83 143.36 L61.82 142.22 L62.31 140.51 L62.31 139.94 L61.82 138.23 L60.83 137.08 L59.34 136.51 L58.85 136.51 L57.37 137.08 L56.38 138.23 L55.88 139.94" fill="none" stroke="#000" stroke-width="1.85" stroke-linecap="round" stroke-linejoin="round"/>
<path d="M46.97 90.76 L47.96 90.19 L49.45 88.47 L49.45 100.47 M57.86 88.47 L56.38 89.05 L55.88 90.19 L55.88 91.33 L56.38 92.47 L57.37 93.04 L59.34 93.61 L60.83 94.18 L61.82 95.33 L62.31 96.47 L62.31 98.18 L61.82 99.32 L61.33 99.89 L59.84 100.47 L57.86 100.47 L56.38 99.89 L55.88 99.32 L55.38 98.18 L55.38 96.47 L55.88 95.33 L56.87 94.18 L58.36 93.61 L60.34 93.04 L61.33 92.47 L61.82 91.33 L61.82 90.19 L61.33 89.05 L59.84 88.47 L57.86 88.47" fill="none" stroke="#000" stroke-width="1.85" stroke-linecap="round" stroke-linejoin="round"/>
<path d="M45.98 47.86 L45.98 47.29 L46.48 46.15 L46.97 45.58 L47.96 45.00 L49.94 45.00 L50.93 45.58 L51.42 46.15 L51.92 47.29 L51.92 48.43 L51.42 49.57 L50.44 51.29 L45.48 57.00 L52.41 57.00 M58.36 45.00 L56.87 45.58 L55.88 47.29 L55.38 50.14 L55.38 51.86 L55.88 54.71 L56.87 56.42 L58.36 57.00 L59.34 57.00 L60.83 56.42 L61.82 54.71 L62.31 51.86 L62.31 50.14 L61.82 47.29 L60.83 45.58 L59.34 45.00 L58.36 45.00" fill="none" stroke="#000" stroke-width="1.85" stroke-linecap="round" stroke-linejoin="round"/>
<path d="M75.49 9.32 L74.36 6.75 L72.10 4.18 L69.84 2.89 L65.32 2.89 L63.07 4.18 L60.81 6.75 L59.68 9.32 L58.55 13.18 L58.55 19.61 L59.68 23.47 L60.81 26.04 L63.07 28.61 L65.32 29.90 L69.84 29.90 L72.10 28.61 L74.36 26.04 L75.49 23.47 L75.49 19.61 M69.84 19.61 L75.49 19.61" fill="none" stroke="#000" stroke-width="2.50" stroke-linecap="round" stroke-linejoin="round"/>
<path d="M81.89 11.90 L81.89 29.90 M81.89 19.61 L83.02 15.75 L85.28 13.18 L87.53 11.90 L90.92 11.90" fill="none" stroke="#000" stroke-width="2.50" stroke-linecap="round" stroke-linejoin="round"/>
<path d="M110.49 11.90 L110.49 29.90 M110.49 15.75 L108.23 13.18 L105.97 11.90 L102.58 11.90 L100.32 13.18 L98.07 15.75 L96.94 19.61 L96.94 22.18 L98.07 26.04 L100.32 28.61 L102.58 29.90 L105.97 29.90 L108.23 28.61 L110.49 26.04" fill="none" stroke="#000" stroke-width="2.50" stroke-linecap="round" stroke-linejoin="round"/>
<path d="M131.94 2.89 L131.94 29.90 M131.94 15.75 L129.68 13.18 L127.42 11.90 L124.03 11.90 L121.78 13.18 L119.52 15.75 L118.39 19.61 L118.39 22.18 L119.52 26.04 L121.78 28.61 L124.03 29.90 L127.42 29.90 L129.68 28.61 L131.94 26.04" fill="none" stroke="#000" stroke-width="2.50" stroke-linecap="round" stroke-linejoin="round"/>
<path d="M139.84 2.89 L140.97 4.18 L142.10 2.89 L140.97 1.61 L139.84 2.89 M140.97 11.90 L140.97 29.90" fill="none" stroke="#000" stroke-width="2.50" stroke-linecap="round" stroke-linejoin="round"/>
<path d="M148.87 19.61 L162.42 19.61 L162.42 17.04 L161.29 14.47 L160.16 13.18 L157.90 11.90 L154.52 11.90 L152.26 13.18 L150.00 15.75 L148.87 19.61 L148.87 22.18 L150.00 26.04 L152.26 28.61 L154.52 29.90 L157.90 29.90 L160.16 28.61 L162.42 26.04" fill="none" stroke="#000" stroke-width="2.50" stroke-linecap="round" stroke-linejoin="round"/>
<path d="M170.32 11.90 L170.32 29.90 M170.32 17.04 L173.71 13.18 L175.97 11.90 L179.36 11.90 L181.61 13.18 L182.74 17.04 L182.74 29.90" fill="none" stroke="#000" stroke-width="2.50" stroke-linecap="round" stroke-linejoin="round"/>
<path d="M192.90 2.89 L192.90 24.76 L194.03 28.61 L196.29 29.90 L198.55 29.90 M189.52 11.90 L197.42 11.90" fill="none" stroke="#000" stroke-width="2.50" stroke-linecap="round" stroke-linejoin="round"/>
<path d="M222.95 2.89 L228.62 29.90 M234.29 2.89 L228.62 29.90 M234.29 2.89 L239.97 29.90 M245.64 2.89 L239.97 29.90" fill="none" stroke="#000" stroke-width="2.50" stroke-linecap="round" stroke-linejoin="round"/>
<path d="M251.31 2.89 L252.44 4.18 L253.58 2.89 L252.44 1.61 L251.31 2.89 M252.44 11.90 L252.44 29.90" fill="none" stroke="#000" stroke-width="2.50" stroke-linecap="round" stroke-linejoin="round"/>
<path d="M261.52 11.90 L261.52 29.90 M261.52 17.04 L264.92 13.18 L267.19 11.90 L270.59 11.90 L272.86 13.18 L274.00 17.04 L274.00 29.90" fill="none" stroke="#000" stroke-width="2.50" stroke-linecap="round" stroke-linejoin="round"/>
<path d="M295.55 2.89 L295.55 29.90 M295.55 15.75 L293.28 13.18 L291.01 11.90 L287.61 11.90 L285.34 13.18 L283.07 15.75 L281.94 19.61 L281.94 22.18 L283.07 26.04 L285.34 28.61 L287.61 29.90 L291.01 29.90 L293.28 28.61 L295.55 26.04" fill="none" stroke="#000" stroke-width="2.50" stroke-linecap="round" stroke-linejoin="round"/>
<path d="M324.38 9.32 L324.38 8.04 L325.51 5.47 L326.64 4.18 L328.91 2.89 L333.43 2.89 L335.69 4.18 L336.82 5.47 L337.95 8.04 L337.95 10.61 L336.82 13.18 L334.56 17.04 L323.25 29.90 L339.09 29.90" fill="none" stroke="#000" stroke-width="2.50" stroke-linecap="round" stroke-linejoin="round"/>
<path d="M352.66 2.89 L349.26 4.18 L347.00 8.04 L345.87 14.47 L345.87 18.33 L347.00 24.76 L349.26 28.61 L352.66 29.90 L354.92 29.90 L358.31 28.61 L360.58 24.76 L361.71 18.33 L361.71 14.47 L360.58 8.04 L358.31 4.18 L354.92 2.89 L352.66 2.89" fill="none" stroke="#000" stroke-width="2.50" stroke-linecap="round" stroke-linejoin="round"/>
<path d="M369.62 9.32 L369.62 8.04 L370.76 5.47 L371.89 4.18 L374.15 2.89 L378.67 2.89 L380.94 4.18 L382.07 5.47 L383.20 8.04 L383.20 10.61 L382.07 13.18 L379.80 17.04 L368.49 29.90 L384.33 29.90" fill="none" stroke="#000" stroke-width="2.50" stroke-linecap="round" stroke-linejoin="round"/>
<path d="M393.38 2.89 L405.82 2.89 L399.03 13.18 L402.43 13.18 L404.69 14.47 L405.82 15.75 L406.95 19.61 L406.95 22.18 L405.82 26.04 L403.56 28.61 L400.16 29.90 L396.77 29.90 L393.38 28.61 L392.25 27.33 L391.11 24.76" fill="none" stroke="#000" stroke-width="2.50" stroke-linecap="round" stroke-linejoin="round"/>
<path d="M440.77 2.89 L431.75 29.90 M440.77 2.89 L449.80 29.90 M435.13 20.90 L446.41 20.90" fill="none" stroke="#000" stroke-width="2.50" stroke-linecap="round" stroke-linejoin="round"/>
<path d="M455.43 2.89 L455.43 22.18 L456.56 26.04 L458.82 28.61 L462.20 29.90 L464.46 29.90 L467.84 28.61 L470.10 26.04 L471.22 22.18 L471.22 2.89" fill="none" stroke="#000" stroke-width="2.50" stroke-linecap="round" stroke-linejoin="round"/>
<path d="M496.04 9.32 L494.91 6.75 L492.65 4.18 L490.40 2.89 L485.89 2.89 L483.63 4.18 L481.37 6.75 L480.25 9.32 L479.12 13.18 L479.12 19.61 L480.25 23.47 L481.37 26.04 L483.63 28.61 L485.89 29.90 L490.40 29.90 L492.65 28.61 L494.91 26.04 L496.04 23.47 L496.04 19.61 M490.40 19.61 L496.04 19.61" fill="none" stroke="#000" stroke-width="2.50" stroke-linecap="round" stroke-linejoin="round"/>
<path d="M503.93 9.32 L503.93 8.04 L505.06 5.47 L506.19 4.18 L508.44 2.89 L512.95 2.89 L515.21 4.18 L516.34 5.47 L517.47 8.04 L517.47 10.61 L516.34 13.18 L514.08 17.04 L502.80 29.90 L518.59 29.90" fill="none" stroke="#000" stroke-width="2.50" stroke-linecap="round" stroke-linejoin="round"/>
<path d="M526.49 9.32 L526.49 8.04 L527.62 5.47 L528.74 4.18 L531.00 2.89 L535.51 2.89 L537.77 4.18 L538.89 5.47 L540.02 8.04 L540.02 10.61 L538.89 13.18 L536.64 17.04 L525.36 29.90 L541.15 29.90" fill="none" stroke="#000" stroke-width="2.50" stroke-linecap="round" stroke-linejoin="round"/>
<path d="M575.15 2.89 L571.80 4.18 L569.57 8.04 L568.45 14.47 L568.45 18.33 L569.57 24.76 L571.80 28.61 L575.15 29.90 L577.38 29.90 L580.73 28.61 L582.97 24.76 L584.08 18.33 L584.08 14.47 L582.97 8.04 L580.73 4.18 L577.38 2.89 L575.15 2.89" fill="none" stroke="#000" stroke-width="2.50" stroke-linecap="round" stroke-linejoin="round"/>
<path d="M593.02 2.89 L605.30 2.89 L598.60 13.18 L601.95 13.18 L604.18 14.47 L605.30 15.75 L606.42 19.61 L606.42 22.18 L605.30 26.04 L603.07 28.61 L599.72 29.90 L596.37 29.90 L593.02 28.61 L591.90 27.33 L590.78 24.76" fill="none" stroke="#000" stroke-width="2.50" stroke-linecap="round" stroke-linejoin="round"/>
<path d="M628.75 2.89 L613.12 29.90 M613.12 2.89 L628.75 2.89 M613.12 29.90 L628.75 29.90" fill="none" stroke="#000" stroke-width="2.50" stroke-linecap="round" stroke-linejoin="round"/>
<path d="M683.11 2.89 L674.05 29.90 M683.11 2.89 L692.17 29.90 M677.45 20.90 L688.77 20.90" fill="none" stroke="#000" stroke-width="2.50" stroke-linecap="round" stroke-linejoin="round"/>
<path d="M696.33 2.89 L696.33 29.90 M696.33 29.90 L709.92 29.90" fill="none" stroke="#000" stroke-width="2.50" stroke-linecap="round" stroke-linejoin="round"/>
<path d="M722.24 2.89 L718.85 4.18 L716.58 8.04 L715.45 14.47 L715.45 18.33 L716.58 24.76 L718.85 28.61 L722.24 29.90 L724.51 29.90 L727.91 28.61 L730.17 24.76 L731.30 18.33 L731.30 14.47 L730.17 8.04 L727.91 4.18 L724.51 2.89 L722.24 2.89" fill="none" stroke="#000" stroke-width="2.50" stroke-linecap="round" stroke-linejoin="round"/>
<path d="M743.76 2.89 L740.36 4.18 L739.23 6.75 L739.23 9.32 L740.36 11.90 L742.63 13.18 L747.16 14.47 L750.56 15.75 L752.82 18.33 L753.95 20.90 L753.95 24.76 L752.82 27.33 L751.69 28.61 L748.29 29.90 L743.76 29.90 L740.36 28.61 L739.23 27.33 L738.10 24.76 L738.10 20.90 L739.23 18.33 L741.50 15.75 L744.89 14.47 L749.42 13.18 L751.69 11.90 L752.82 9.32 L752.82 6.75 L751.69 4.18 L748.29 2.89 L743.76 2.89" fill="none" stroke="#000" stroke-width="2.50" stroke-linecap="round" stroke-linejoin="round"/>
<path d="M761.88 9.32 L761.88 8.04 L763.01 5.47 L764.14 4.18 L766.41 2.89 L770.94 2.89 L773.20 4.18 L774.34 5.47 L775.47 8.04 L775.47 10.61 L774.34 13.18 L772.07 17.04 L760.75 29.90 L776.60 29.90" fill="none" stroke="#000" stroke-width="2.50" stroke-linecap="round" stroke-linejoin="round"/>
<path d="M785.66 2.89 L798.12 2.89 L791.32 13.18 L794.72 13.18 L796.99 14.47 L798.12 15.75 L799.25 19.61 L799.25 22.18 L798.12 26.04 L795.85 28.61 L792.46 29.90 L789.06 29.90 L785.66 28.61 L784.53 27.33 L783.40 24.76" fill="none" stroke="#000" stroke-width="2.50" stroke-linecap="round" stroke-linejoin="round"/>
<path d="M400.00 537.42 L400.00 551.70 M400.00 543.54 L400.88 540.48 L402.62 538.44 L404.38 537.42 L407.00 537.42" fill="none" stroke="#000" stroke-width="2.40" stroke-linecap="round" stroke-linejoin="round"/>
<path d="M434.50 526.20 L432.67 528.24 L430.84 531.30 L429.01 535.38 L428.10 540.48 L428.10 544.56 L429.01 549.66 L430.84 553.74 L432.67 556.80 L434.50 558.84" fill="none" stroke="#000" stroke-width="2.40" stroke-linecap="round" stroke-linejoin="round"/>
<path d="M440.60 530.28 L440.60 551.70 M449.24 537.42 L440.60 547.62 M444.05 543.54 L450.10 551.70" fill="none" stroke="#000" stroke-width="2.40" stroke-linecap="round" stroke-linejoin="round"/>
<path d="M456.90 537.42 L456.90 551.70 M456.90 541.50 L459.48 538.44 L461.20 537.42 L463.77 537.42 L465.49 538.44 L466.35 541.50 L466.35 551.70 M466.35 541.50 L468.93 538.44 L470.65 537.42 L473.22 537.42 L474.94 538.44 L475.80 541.50 L475.80 551.70" fill="none" stroke="#000" stroke-width="2.40" stroke-linecap="round" stroke-linejoin="round"/>
<path d="M483.20 526.20 L484.94 528.24 L486.69 531.30 L488.43 535.38 L489.30 540.48 L489.30 544.56 L488.43 549.66 L486.69 553.74 L484.94 556.80 L483.20 558.84" fill="none" stroke="#000" stroke-width="2.40" stroke-linecap="round" stroke-linejoin="round"/>
<path d="M12.10 330.91 L26.10 341.19 M12.10 341.19 L12.10 330.91 M26.10 341.19 L26.10 330.91 M1.10 302.86 L3.10 304.73 L6.10 306.60 L10.10 308.47 L15.10 309.40 L19.10 309.40 L24.10 308.47 L28.10 306.60 L31.10 304.73 L33.10 302.86 M5.10 296.31 L26.10 296.31 M12.10 286.96 L22.10 296.31 M18.10 292.57 L26.10 286.03 M12.10 280.42 L26.10 280.42 M16.10 280.42 L13.10 277.62 L12.10 275.75 L12.10 272.94 L13.10 271.07 L16.10 270.13 L26.10 270.13 M16.10 270.13 L13.10 267.33 L12.10 265.46 L12.10 262.65 L13.10 260.78 L16.10 259.85 L26.10 259.85 M1.10 253.31 L3.10 251.44 L6.10 249.56 L10.10 247.69 L15.10 246.76 L19.10 246.76 L24.10 247.69 L28.10 249.56 L31.10 251.44 L33.10 253.31" fill="none" stroke="#000" stroke-width="2.40" stroke-linecap="round" stroke-linejoin="round"/>
</svg>
</body></html>
